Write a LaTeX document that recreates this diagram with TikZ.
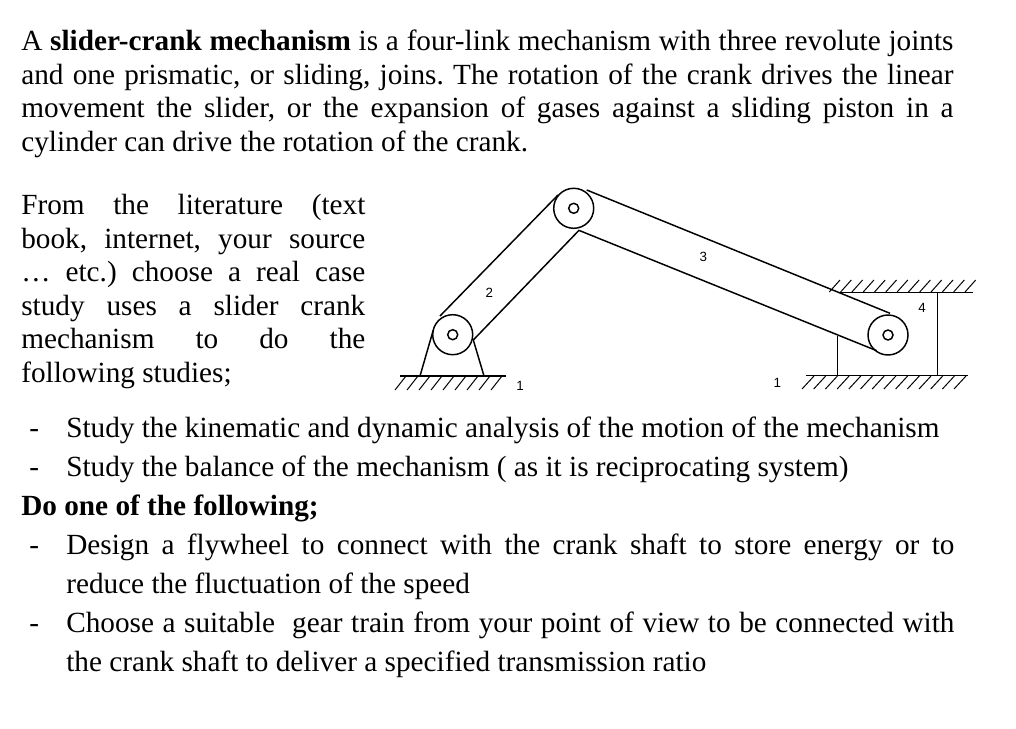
\documentclass[tikz,border=0pt]{standalone}
\usepackage{fontspec}
\setmainfont{Liberation Serif}
\newfontfamily\labelfont{Liberation Sans}
\tikzset{
  para/.style={anchor=north west,inner sep=0pt,align=justify,font=\fontsize{20.8}{23.85}\selectfont\frenchspacing},
  item/.style={para,font=\fontsize{20.8}{27.7}\selectfont\frenchspacing},
  num/.style={font=\labelfont\fontsize{9.5}{11}\selectfont,inner sep=0pt},
  link/.style={line width=1.05pt},
  hatch/.style={line width=.7pt}
}
\begin{document}
\begin{tikzpicture}[x=.025cm,y=-.025cm]
  \useasboundingbox (0,0) rectangle (1016,728);

  % text
  \path (21,30) node[para,text width=23.3cm] (intro) {A \textbf{slider-crank mechanism} is a four-link mechanism with three revolute joints\linebreak and one prismatic, or sliding, joins. The rotation of the crank drives the linear\linebreak movement the slider, or the expansion of gases against a sliding piston in a\linebreak cylinder can drive the rotation of the crank.};
  \path (21,194) node[para,text width=8.6cm] (task) {From the literature (text\linebreak book, internet, your source\linebreak \dots\ etc.) choose a real case\linebreak study uses a slider crank\linebreak mechanism to do the\linebreak following studies;};
  \path (29,417) node[item] (dash1) {\vphantom{d}-};
  \path (66,417) node[item] (study1) {Study the kinematic and dynamic analysis of the motion of the mechanism};
  \path (29,456) node[item] (dash2) {\vphantom{d}-};
  \path (66,456) node[item] (study2) {Study the balance of the mechanism ( as it is reciprocating system)};
  \path (21,495) node[item] (doone) {\textbf{Do one of the following;}};
  \path (29,534) node[item] (dash3) {\vphantom{d}-};
  \path (66,534) node[item,text width=22.2cm] (design) {Design a flywheel to connect with the crank shaft to store energy or to\linebreak reduce the fluctuation of the speed};
  \path (29,612) node[item] (dash4) {\vphantom{d}-};
  \path (66,612) node[item,text width=22.2cm] (gear) {Choose a suitable\ \ gear train from your point of view to be connected with\linebreak the crank shaft to deliver a specified transmission ratio};

  % joints
  \draw[link] (452.7,334.7) circle (20);
  \draw[link] (452.7,334.7) circle (5);
  \draw[link] (573.7,208.3) circle (20);
  \draw[link] (573.7,208.3) circle (5);
  \draw[link] (888,335) circle (20);
  \draw[link] (888,335) circle (5);

  % crank and connecting rod
  \draw[link] (440,316) --(558,195);
  \draw[link] (473.3,340) --(579.3,230);
  \draw[link] (586.7,190) --(890,313.3);
  \draw[link] (579.3,230.5) --(876.7,350.7);

  % support of the crank
  \draw[link] (433.3,330) --(420,376);
  \draw[link] (473.3,340) --(484,376);
  \draw[link] (400,376) --(506,376);
  \draw[hatch] (406,376) --(395,390);
  \draw[hatch] (418,376) --(407,390);
  \draw[hatch] (430,376) --(419,390);
  \draw[hatch] (442,376) --(431,390);
  \draw[hatch] (454,376) --(443,390);
  \draw[hatch] (466,376) --(455,390);
  \draw[hatch] (478,376) --(467,390);
  \draw[hatch] (490,376) --(479,390);
  \draw[hatch] (502,376) --(491,390);

  % slider and guides
  \draw[link] (837.7,336) --(837.7,375.3);
  \draw[link] (937.7,293) --(937.7,375.3);
  \draw[link] (840,292.7) --(972.7,292.7);
  \draw[link] (806,375.3) --(967.7,375.3);
  \draw[hatch] (829.3,292) --(840,280);
  \draw[hatch] (840.6,292) --(851.3,280);
  \draw[hatch] (851.9,292) --(862.6,280);
  \draw[hatch] (863.2,292) --(873.9,280);
  \draw[hatch] (874.5,292) --(885.2,280);
  \draw[hatch] (885.8,292) --(896.5,280);
  \draw[hatch] (897.1,292) --(907.8,280);
  \draw[hatch] (908.4,292) --(919.1,280);
  \draw[hatch] (919.7,292) --(930.4,280);
  \draw[hatch] (931,292) --(941.7,280);
  \draw[hatch] (942.3,292) --(953,280);
  \draw[hatch] (953.6,292) --(964.3,280);
  \draw[hatch] (965,292) --(975.7,280);
  \draw[hatch] (814,376) --(802,389);
  \draw[hatch] (825.7,376) --(813.7,389);
  \draw[hatch] (837.4,376) --(825.4,389);
  \draw[hatch] (849.1,376) --(837.1,389);
  \draw[hatch] (860.8,376) --(848.8,389);
  \draw[hatch] (872.5,376) --(860.5,389);
  \draw[hatch] (884.2,376) --(872.2,389);
  \draw[hatch] (895.9,376) --(883.9,389);
  \draw[hatch] (907.6,376) --(895.6,389);
  \draw[hatch] (919.3,376) --(907.3,389);
  \draw[hatch] (931,376) --(919,389);
  \draw[hatch] (942.7,376) --(930.7,389);
  \draw[hatch] (954.4,376) --(942.4,389);
  \draw[hatch] (966,376) --(954,389);

  % link numbers
  \path (520,386) node[num] (n1a) {1};
  \path (489.3,293.3) node[num] (n2) {2};
  \path (703.3,256.7) node[num] (n3) {3};
  \path (922,308.3) node[num] (n4) {4};
  \path (777.3,383.3) node[num] (n1b) {1};
\end{tikzpicture}
\end{document}
